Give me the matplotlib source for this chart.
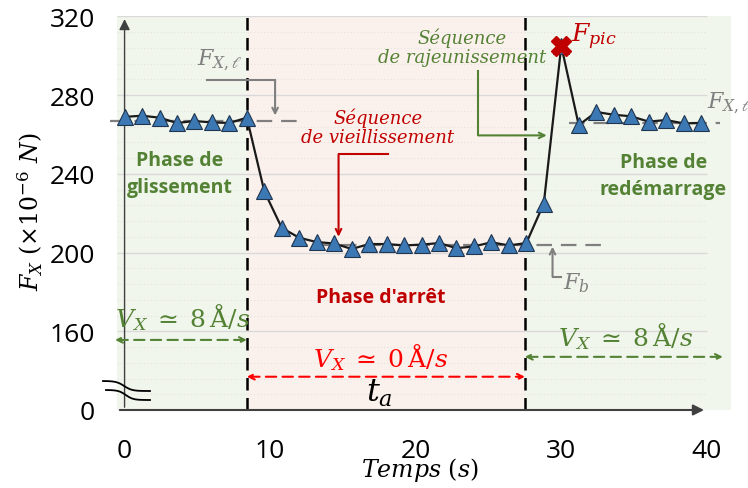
import matplotlib.pyplot as plt
import numpy as np

plt.rcParams['mathtext.fontset'] = 'dejavuserif'
plt.rcParams['font.family'] = ['Open Sans', 'DejaVu Sans']

# Time (s) and friction force (x1e-6 N)
temps = [0.0, 1.2, 2.4, 3.6, 4.8, 6.0, 7.2, 8.4,
         9.6, 10.8, 12.0, 13.2, 14.4, 15.6, 16.8, 18.0, 19.2, 20.4,
         21.6, 22.8, 24.0, 25.2, 26.4, 27.6,
         28.8, 30.0, 31.2, 32.4, 33.6, 34.8, 36.0, 37.2, 38.4, 39.6]
force = [268.9, 269.5, 268.5, 265.8, 266.8, 266.1, 265.8, 268.5,
         231.1, 212.5, 207.5, 205.3, 204.6, 201.8, 204.3, 204.3, 203.6, 204.0,
         204.8, 202.2, 203.1, 205.2, 203.6, 204.8,
         224.9, 305.0, 264.7, 271.4, 270.0, 269.2, 266.5, 267.3, 265.6, 265.8]

# phase boundaries (s) and reference levels
t_stop = 8.4
t_restart = 27.5
f_slide = 266.8
f_slide_end = 266.0
f_base = 204.0
peak_idx = 25

xticks = [0, 10, 20, 30, 40]
yticks = [120, 160, 200, 240, 280, 320]
ytick_labels = ['0', '160', '200', '240', '280', '320']

GREEN = '#548235'
DRED = '#C00000'
RED = '#FF0000'
GRAY = '#7F7F7F'

fig = plt.figure(figsize=(7.48, 4.89), dpi=100)
ax = fig.add_axes([117 / 748, 1 - 411 / 489, (731 - 117) / 748, (411 - 17.3) / 489])
x0, x1 = -0.52, 41.66
ax.set_xlim(x0, x1)
ax.set_ylim(120, 320)

# background for each phase
ax.axvspan(x0, t_stop, color='#F1F6EC', zorder=0, lw=0)
ax.axvspan(t_stop, t_restart, color='#FBF1EC', zorder=0, lw=0)
ax.axvspan(t_restart, x1, color='#F1F6EC', zorder=0, lw=0)

# grid lines stop at x = 40
ax.hlines(yticks[1:], x0, 40, color='#D9D9D9', lw=1.0, zorder=1)
minor = [v for v in range(128, 320, 8) if v not in yticks]
ax.hlines(minor, x0, 40, color='#E3E3E3', lw=0.8, linestyles=(0, (1, 2)), zorder=1)

for s in ax.spines.values():
    s.set_visible(False)
ax.set_xticks(xticks)
ax.set_yticks(yticks)
ax.set_yticklabels(ytick_labels)
ax.tick_params(length=0, labelsize=19, colors='black')
ax.tick_params(axis='x', pad=20)
ax.tick_params(axis='y', pad=16)

# axes with arrow heads
ax.annotate('', xy=(40, 120), xytext=(x0, 120),
            arrowprops=dict(arrowstyle='-|>', color='#404040', lw=1.5, mutation_scale=16),
            annotation_clip=False, zorder=3)
ax.annotate('', xy=(0, 320), xytext=(0, 120),
            arrowprops=dict(arrowstyle='-|>', color='#404040', lw=1.0, mutation_scale=16),
            annotation_clip=False, zorder=3)

# phase boundaries
for t in [t_stop, t_restart]:
    ax.axvline(t, color='black', lw=1.8, ls=(0, (5, 3)), zorder=2)

# reference level lines
ax.plot([-1.0, 12.1], [f_slide, f_slide], color=GRAY, lw=1.6, ls=(0, (7, 4)), clip_on=False, zorder=2)
ax.plot([30.5, 40.9], [f_slide_end, f_slide_end], color=GRAY, lw=1.6, ls=(0, (7, 4)), clip_on=False, zorder=2)
ax.plot([11.5, 33.0], [f_base, f_base], color=GRAY, lw=1.6, ls=(0, (7, 4)), zorder=2)

# data
ax.plot(temps, force, color='#1A1A1A', lw=1.6, zorder=4)
ax.plot(temps, force, ls='none', marker='^', ms=11, mfc='#3C78B4', mec='#1F3550', mew=0.8, zorder=5)
ax.plot(temps[peak_idx], force[peak_idx], marker='X', ms=15, color=DRED, mec=DRED, zorder=6)

# annotations
mt = dict(ha='center', va='center')
ax.text(6.56, 298.2, r'$F_{X,\ell}$', color=GRAY, fontsize=16, **mt)
ax.plot([5.65, 10.34], [287.7, 287.7], color=GRAY, lw=1.5)
ax.annotate('', xy=(10.34, 269.6), xytext=(10.34, 287.7),
            arrowprops=dict(arrowstyle='->', color=GRAY, lw=1.5, shrinkA=0, shrinkB=0))

ax.text(17.4, 264.0, 'Séquence\nde vieillissement', color=DRED, fontsize=13,
        family='DejaVu Serif', style='italic', linespacing=1.1, **mt)
ax.plot([18.1, 14.7], [249.8, 249.8], color=DRED, lw=1.5)
ax.annotate('', xy=(14.7, 208.0), xytext=(14.7, 249.8),
            arrowprops=dict(arrowstyle='->', color=DRED, lw=1.5, shrinkA=0, shrinkB=0))

ax.text(23.2, 304.5, 'Séquence\nde rajeunissement', color=GREEN, fontsize=13,
        family='DejaVu Serif', style='italic', linespacing=1.1, **mt)
ax.plot([24.3, 24.3], [292.1, 259.5], color=GREEN, lw=1.5)
ax.annotate('', xy=(29.0, 259.5), xytext=(24.3, 259.5),
            arrowprops=dict(arrowstyle='->', color=GREEN, lw=1.5, shrinkA=0, shrinkB=0))

ax.text(30.7, 310.0, r'$F_{pic}$', color=DRED, fontsize=18, ha='left', va='center')
ax.text(40.0, 276.3, r'$F_{X,\ell}$', color=GRAY, fontsize=16, ha='left', va='center', clip_on=False)

ax.text(30.1, 185.0, r'$F_b$', color=GRAY, fontsize=16, ha='left', va='center')
ax.plot([30.0, 29.4], [187.8, 187.8], color=GRAY, lw=1.5)
ax.annotate('', xy=(29.4, 203.0), xytext=(29.4, 187.8),
            arrowprops=dict(arrowstyle='->', color=GRAY, lw=1.5, shrinkA=0, shrinkB=0))

bold = dict(fontsize=14, fontweight='bold', ha='center', va='center', linespacing=1.45)
ax.text(3.8, 240.0, 'Phase de\nglissement', color=GREEN, **bold)
ax.text(37.0, 239.0, 'Phase de\nredémarrage', color=GREEN, **bold)
ax.text(17.6, 177.6, "Phase d'arrêt", color=DRED, **bold)

vx8 = r'$V_X\;\simeq\;8\,\mathrm{\AA}/s$'
ax.text(4.0, 167.4, vx8, color=GREEN, fontsize=18, **mt)
ax.annotate('', xy=(t_stop, 155.6), xytext=(-0.65, 155.6), annotation_clip=False,
            arrowprops=dict(arrowstyle='<->', color=GREEN, lw=1.5, ls=(0, (5, 3)), shrinkA=0, shrinkB=0))
ax.text(17.6, 147.0, r'$V_X\;\simeq\;0\,\mathrm{\AA}/s$', color=RED, fontsize=18, **mt)
ax.annotate('', xy=(t_restart, 136.9), xytext=(t_stop, 136.9),
            arrowprops=dict(arrowstyle='<->', color=RED, lw=1.5, ls=(0, (5, 3)), shrinkA=0, shrinkB=0))
ax.text(17.5, 128.8, r'$t_a$', color='black', fontsize=23, **mt)
ax.text(34.4, 158.0, vx8, color=GREEN, fontsize=18, **mt)
ax.annotate('', xy=(41.1, 147.0), xytext=(t_restart, 147.0), annotation_clip=False,
            arrowprops=dict(arrowstyle='<->', color=GREEN, lw=1.5, ls=(0, (5, 3)), shrinkA=0, shrinkB=0))

# axis labels
fig.text(30 / 748, 1 - 212 / 489, r'$F_X\ (\times 10^{-6}\ N)$', rotation=90,
         fontsize=17, ha='center', va='center')
fig.text(420 / 748, 1 - 470 / 489, r'$Temps\ (s)$', fontsize=17, ha='center', va='center')

# axis break marks
u = np.linspace(0, 1, 40)
sstep = 0.5 + 0.5 * np.tanh((u - 0.45) * 6) / np.tanh(0.55 * 6)
for (xa, xb, ya, yb) in [(103, 150, 382, 392), (106, 150, 391, 401)]:
    px = xa + (xb - xa) * u
    py = ya + (yb - ya) * np.clip(sstep, 0, 1)
    fig.lines.append(plt.Line2D(px / 748, 1 - py / 489, transform=fig.transFigure,
                                color='black', lw=1.3))

fig.savefig('out.png', dpi=100)
